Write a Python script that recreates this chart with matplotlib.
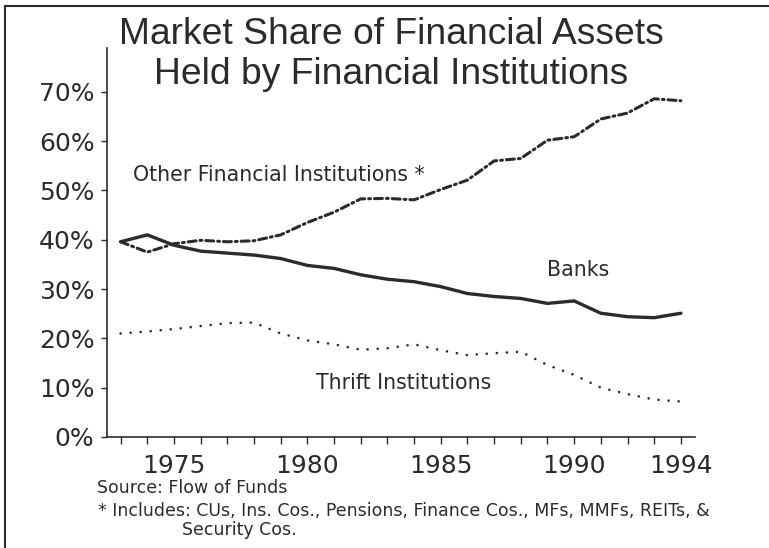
import matplotlib
matplotlib.use("Agg")
import matplotlib.pyplot as plt

plt.rcParams['font.family'] = ['DejaVu Sans']

years = list(range(1973, 1995))
banks = [39.6, 41.0, 38.9, 37.7, 37.3, 36.9, 36.2, 34.8, 34.2, 32.9, 32.0,
         31.5, 30.5, 29.1, 28.5, 28.1, 27.1, 27.6, 25.1, 24.4, 24.2, 25.1]
other = [39.6, 37.5, 39.2, 39.9, 39.6, 39.8, 41.0, 43.5, 45.6, 48.3, 48.4,
         48.1, 50.2, 52.1, 56.0, 56.5, 60.2, 60.9, 64.5, 65.7, 68.6, 68.2]
thrift = [21.0, 21.4, 21.9, 22.5, 23.1, 23.2, 21.0, 19.6, 18.8, 17.7, 18.0,
          18.8, 17.6, 16.6, 17.0, 17.3, 14.6, 12.6, 10.0, 8.7, 7.6, 7.2]
ytick_vals = [0, 10, 20, 30, 40, 50, 60, 70]
ytick_labels = ['0%', '10%', '20%', '30%', '40%', '50%', '60%', '70%']
xlabel_years = [1975, 1980, 1985, 1990, 1994]

title1 = "Market Share of Financial Assets"
title2 = "Held by Financial Institutions"
source = "Source: Flow of Funds"
note1 = "* Includes: CUs, Ins. Cos., Pensions, Finance Cos., MFs, MMFs, REITs, &"
note2 = "Security Cos."

ink = '#2b2b2b'
W, H = 769, 548
fig = plt.figure(figsize=(W / 100, H / 100), dpi=100)
ax = fig.add_axes([107 / W, 1 - 437 / H, (695 - 107) / W, (437 - 48) / H])

ax.plot(years, banks, color=ink, lw=2.4, solid_capstyle='round', solid_joinstyle='round')
ax.plot(years, other, color=ink, lw=2.2, linestyle=(0, (2.6, 1.3, 0.6, 1.3)),
        dash_capstyle='round')
ax.plot(years, thrift, color=ink, lw=1.9, linestyle=(0, (0.01, 3.8)),
        dash_capstyle='round')

ax.set_xlim(1972.49, 1994.53)
ax.set_ylim(0, 78.9)
for s in ['top', 'right']:
    ax.spines[s].set_visible(False)
for s in ['left', 'bottom']:
    ax.spines[s].set_color(ink)
    ax.spines[s].set_linewidth(1.2)

ax.set_yticks(ytick_vals)
ax.set_yticklabels(ytick_labels)
ax.set_xticks(years)
ax.set_xticklabels([str(y) if y in xlabel_years else '' for y in years])
ax.tick_params(axis='both', direction='out', color=ink, width=1.0, labelcolor=ink,
               labelsize=18)
ax.tick_params(axis='y', length=4, pad=5)
ax.tick_params(axis='x', length=5, pad=7)

ann = dict(color=ink, fontsize=14.8)
ax.text(1973.46, 53.1, "Other Financial Institutions *", ha='left', va='center', **ann)
ax.text(1990.14, 33.9, "Banks", ha='center', va='center', **ann)
ax.text(1983.62, 11.0, "Thrift Institutions", ha='center', va='center', **ann)

tt = dict(color=ink, fontsize=26.8, ha='center', va='center', family='Liberation Sans')
fig.text(391 / W, 1 - 35 / H, title1, **tt)
fig.text(391 / W, 1 - 75 / H, title2, **tt)

fn = dict(color=ink, fontsize=12.5, ha='left', va='center')
fig.text(97 / W, 1 - 488 / H, source, **fn)
fig.text(98 / W, 1 - 511 / H, note1, **fn)
fig.text(182 / W, 1 - 530 / H, note2, **fn)

# page frame (left and top edges)
fig.add_artist(plt.Line2D([5 / W, 5 / W], [0, 1 - 6 / H], transform=fig.transFigure,
                          color=ink, lw=1.5))
fig.add_artist(plt.Line2D([5 / W, 1], [1 - 6 / H, 1 - 6 / H], transform=fig.transFigure,
                          color=ink, lw=1.5))

fig.savefig('out.png', dpi=100)
